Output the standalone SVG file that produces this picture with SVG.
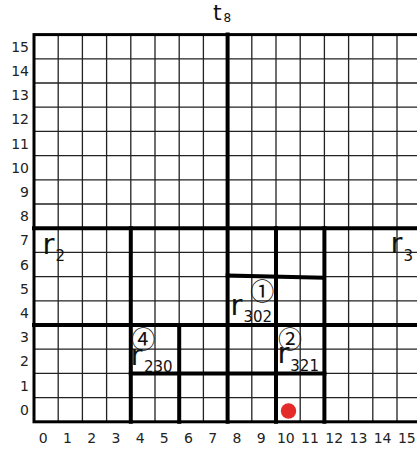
<svg xmlns="http://www.w3.org/2000/svg" width="417" height="450" viewBox="0 0 417 450">
<style>
.thin{stroke:#222;stroke-width:1.3;fill:none}
.thick{stroke:#000;stroke-width:4;fill:none;stroke-linecap:square}
.border{stroke:#000;stroke-width:3;fill:none}
.lab{font-family:"DejaVu Sans",Verdana,sans-serif;font-size:14px;fill:#222}
.r{font-family:"DejaVu Sans",Verdana,sans-serif;font-size:29px;fill:#111}
.sub{font-family:"DejaVu Sans",Verdana,sans-serif;font-size:15px;fill:#111}
.circ{font-family:"Noto Sans CJK SC","Noto Sans CJK JP",sans-serif;font-size:24px;fill:#111}
</style>
<rect width="417" height="450" fill="#fff"/>
<g id="grid">
<path class="thin" d="M58.2 34.6V421.8M82.4 34.6V421.8M106.6 34.6V421.8M130.8 34.6V421.8M155 34.6V421.8M179.2 34.6V421.8M203.4 34.6V421.8M227.6 34.6V421.8M251.8 34.6V421.8M276 34.6V421.8M300.2 34.6V421.8M324.4 34.6V421.8M348.6 34.6V421.8M372.8 34.6V421.8M397 34.6V421.8"/>
<path class="thin" d="M34 58.8H417M34 83H417M34 107.2H417M34 131.4H417M34 155.6H417M34 179.8H417M34 204H417M34 228.2H417M34 252.4H417M34 276.6H417M34 300.8H417M34 325H417M34 349.2H417M34 373.4H417M34 397.6H417"/>
<rect class="border" x="34" y="34.6" width="387.2" height="387.2"/>
</g>
<g id="connectors">
<path class="thick" d="M227.6 34.6V421.8"/>
<path class="thick" d="M34 228.2H417"/>
<path class="thick" d="M34 325H417"/>
<path class="thick" d="M130.8 228.2V421.8"/>
<path class="thick" d="M276 228.2V421.8"/>
<path class="thick" d="M324.4 228.2V421.8"/>
<path class="thick" d="M179.2 325V421.8"/>
<path class="thick" d="M130.8 373.4H324.4"/>
<path class="thick" d="M227.6 275.6L322.4 277.6"/>
</g>
<g id="title"><text class="r" x="213" y="20" style="font-size:22px">t</text><text class="sub" x="223.5" y="21.5" style="font-size:12px">8</text></g>
<g id="rowlabels" class="lab" text-anchor="end">
<text x="29" y="51.7">15</text><text x="29" y="75.9">14</text><text x="29" y="100.1">13</text><text x="29" y="124.3">12</text>
<text x="29" y="148.5">11</text><text x="29" y="172.7">10</text><text x="29" y="196.9">9</text><text x="29" y="221.1">8</text>
<text x="29" y="245.3">7</text><text x="29" y="269.5">6</text><text x="29" y="293.7">5</text><text x="29" y="317.9">4</text>
<text x="29" y="342.1">3</text><text x="29" y="366.3">2</text><text x="29" y="390.5">1</text><text x="29" y="414.7">0</text>
</g>
<g id="collabels" class="lab" text-anchor="middle">
<text x="43.3" y="443">0</text><text x="67.5" y="443">1</text><text x="91.7" y="443">2</text><text x="115.9" y="443">3</text>
<text x="140.1" y="443">4</text><text x="164.3" y="443">5</text><text x="188.5" y="443">6</text><text x="212.7" y="443">7</text>
<text x="236.9" y="443">8</text><text x="261.1" y="443">9</text><text x="285.8" y="443">10</text><text x="310" y="443">11</text>
<text x="334.2" y="443">12</text><text x="358.4" y="443">13</text><text x="382.6" y="443">14</text><text x="406.8" y="443">15</text>
</g>
<g id="r2"><text class="r" x="42.5" y="254">r</text><text class="sub" x="55.5" y="261">2</text></g>
<g id="r3"><text class="r" x="390.5" y="253">r</text><text class="sub" x="403.5" y="261">3</text></g>
<g id="r302"><text class="r" x="230.4" y="315">r</text><text class="sub" x="243.5" y="322">302</text><text class="circ" x="262.3" y="300" text-anchor="middle">①</text></g>
<g id="r321"><text class="r" x="277.5" y="363">r</text><text class="sub" x="290.3" y="370.5">321</text><text class="circ" x="290" y="347.5" text-anchor="middle">②</text></g>
<g id="r230"><text class="r" x="130.5" y="365">r</text><text class="sub" x="144" y="372">230</text><text class="circ" x="143.3" y="347.5" text-anchor="middle">④</text></g>
<g id="dot"><circle cx="288.5" cy="411" r="7.7" fill="#e52a2a"/></g>
</svg>
